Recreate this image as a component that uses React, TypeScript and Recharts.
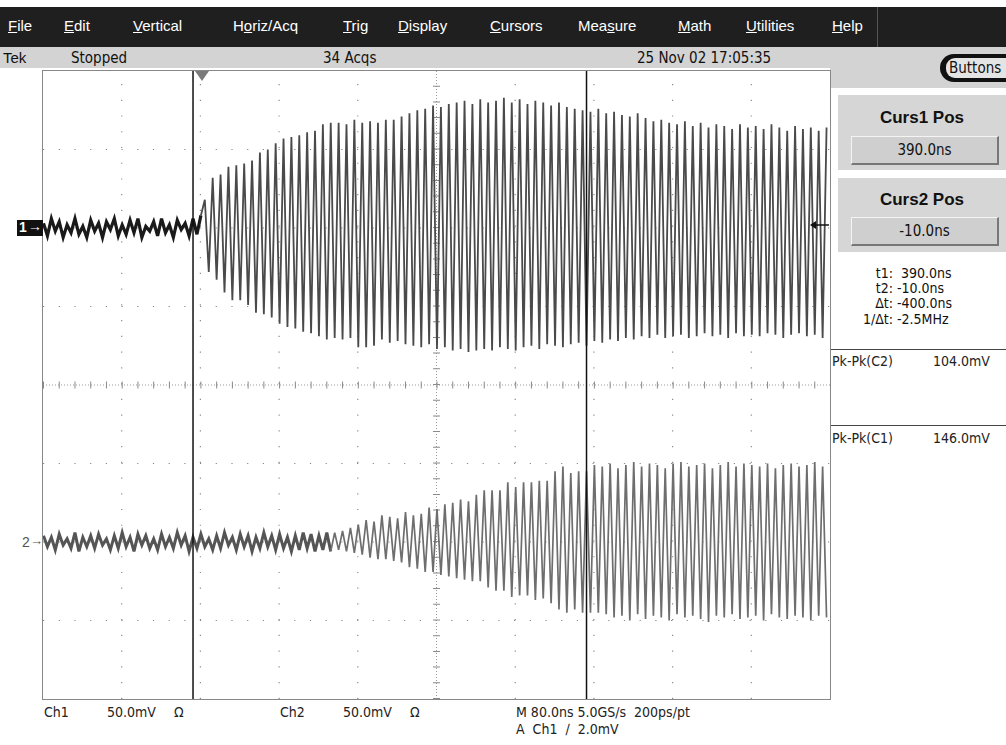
import React from "react";
import { LineChart, Line, XAxis, YAxis, ReferenceLine } from "recharts";

// time base: one point every half period (4 ns), starting at the left edge
const T0 = -162;
const STEP = 4;

// Ch1 before the trigger (mV)
const ch1Pre = [
  3, -5, 6, -2, 4, -6, 2, -3, 6, -4,
  1, -6, 5, -2, 3, -6, 4, -1, 6, -5,
  2, -4, 5, -3, 6, -6, 1, -2, 4, -5,
  6, -3, 2, -6, 5, -1, 3, -5, 6, -4,
  8,
];

// Ch1 ringing, upper and lower peak of each cycle (mV)
const ch1Top = [
  18, 32, 34, 39, 40, 41, 43, 48, 50, 54,
  57, 58, 59, 61, 62, 66, 67, 67, 66, 69,
  67, 68, 67, 69, 69, 71, 73, 75, 76, 78,
  77, 79, 80, 81, 79, 82, 80, 81, 83, 80,
  82, 79, 81, 80, 78, 80, 77, 76, 75, 74,
  76, 73, 74, 72, 71, 73, 70, 68, 69, 67,
  66, 68, 65, 67, 64, 66, 65, 63, 66, 64,
  65, 63, 66, 64, 62, 65, 63, 64, 62, 64,
];
const ch1Bottom = [
  -28, -33, -41, -46, -46, -49, -54, -55, -57, -61,
  -63, -64, -66, -67, -69, -71, -70, -71, -70, -76,
  -76, -75, -71, -73, -72, -74, -75, -76, -74, -77,
  -76, -78, -77, -79, -78, -77, -78, -76, -77, -78,
  -76, -75, -77, -74, -75, -76, -74, -73, -75, -72,
  -73, -71, -72, -70, -71, -69, -70, -68, -70, -69,
  -68, -70, -69, -67, -69, -68, -70, -67, -69, -68,
  -69, -67, -68, -70, -68, -67, -69, -68, -70,
];

// Ch2, upper and lower peak of each cycle (mV)
const ch2Top = [
  4, 3, 5, 2, 6, 3, 4, 5, 2, 4,
  6, 3, 5, 4, 2, 5, 3, 6, 4, 3,
  5, 2, 4, 6, 3, 5, 4, 3, 6, 4,
  5, 3, 4, 6, 5, 4, 6, 6, 7, 9,
  11, 14, 13, 17, 16, 15, 19, 17, 18, 22,
  21, 24, 25, 27, 26, 30, 33, 33, 33, 38,
  35, 38, 38, 39, 39, 45, 48, 44, 45, 45,
  49, 48, 50, 47, 49, 51, 48, 50, 49, 47,
  50, 51, 48, 49, 50, 47, 49, 51, 48, 50,
  49, 48, 50, 47, 49, 50, 48, 49, 51, 48,
];
const ch2Bottom = [
  -3, -5, -2, -4, -6, -3, -4, -2, -5, -4,
  -3, -6, -2, -4, -5, -3, -4, -2, -6, -4,
  -3, -5, -4, -2, -5, -3, -6, -4, -3, -5,
  -4, -6, -5, -4, -6, -5, -6, -5, -6, -7,
  -8, -10, -11, -11, -12, -13, -16, -17, -19, -19,
  -21, -22, -23, -24, -25, -25, -29, -31, -31, -35,
  -34, -34, -37, -36, -39, -43, -45, -43, -45, -45,
  -45, -46, -48, -47, -50, -46, -49, -47, -48, -50,
  -46, -48, -47, -49, -51, -47, -48, -46, -49, -48,
  -47, -50, -46, -48, -49, -47, -48, -50, -47, -48,
];

// channel positions on screen: +2 div and -2 div at 50 mV/div
const CH1_POS = 100;
const CH2_POS = -100;
// cycles of ch2 that are still only noise
const CH2_QUIET = 36;

const ch1: number[] = [...ch1Pre];
ch1Top.forEach((v, i) => {
  ch1.push(v);
  if (i < ch1Bottom.length) ch1.push(ch1Bottom[i]);
});
const ch2: number[] = [];
ch2Top.forEach((v, i) => ch2.push(v, ch2Bottom[i]));

const ch1Split = ch1Pre.length - 1;
const ch2Split = CH2_QUIET * 2 + 1;

const data = ch2.map((v, i) => ({
  t: T0 + i * STEP,
  ch1Noise: i <= ch1Split ? ch1[i] + CH1_POS : undefined,
  ch1: i >= ch1Split ? ch1[i] + CH1_POS : undefined,
  ch2Noise: i <= ch2Split ? v + CH2_POS : undefined,
  ch2: i >= ch2Split ? v + CH2_POS : undefined,
}));

const X_DOMAIN = [-162.5, 637.5];
const xGrid = [-82.5, -2.5, 77.5, 157.5, 317.5, 397.5, 477.5, 557.5];
const yGrid = [-150, -100, -50, 50, 100, 150];
const CURSORS = [-10, 390];

const menu = [
  ["F", "ile", "", 8],
  ["E", "dit", "", 64],
  ["V", "ertical", "", 133],
  ["H", "riz/Acq", "o", 233],
  ["T", "rig", "", 343],
  ["D", "isplay", "", 398],
  ["C", "ursors", "", 490],
  ["Mea", "ure", "s", 578],
  ["M", "ath", "", 678],
  ["U", "tilities", "", 746],
  ["H", "elp", "", 832],
];

const narrow = '"Liberation Sans Narrow", "DejaVu Sans Condensed", "Liberation Sans", Arial, sans-serif';
const sans = '"Liberation Sans", Arial, sans-serif';

const abs = (left: number, top: number, extra: React.CSSProperties = {}): React.CSSProperties => ({
  position: "absolute",
  left,
  top,
  whiteSpace: "pre",
  ...extra,
});

function MenuItem({ item }: { item: any[] }) {
  const [a, b, u, x] = item;
  let content;
  if (a === "H" && u === "o") {
    content = (
      <>
        H<u>o</u>riz/Acq
      </>
    );
  } else if (u === "s") {
    content = (
      <>
        Mea<u>s</u>ure
      </>
    );
  } else {
    content = (
      <>
        <u>{a}</u>
        {b}
      </>
    );
  }
  return <div style={abs(x, 17, { color: "#fff", fontSize: 15, fontFamily: sans })}>{content}</div>;
}

function ValueButton({ top, text }: { top: number; text: string }) {
  return (
    <div
      style={abs(851, top, {
        width: 145,
        height: 26,
        background: "#cfcfcf",
        borderTop: "1px solid #f4f4f4",
        borderLeft: "1px solid #f4f4f4",
        borderRight: "2px solid #777",
        borderBottom: "2px solid #777",
        textAlign: "center",
        lineHeight: "26px",
        fontSize: 15,
        fontFamily: narrow,
        color: "#111",
      })}
    >
      {text}
    </div>
  );
}

export default function App() {
  return (
    <div
      style={{
        position: "absolute",
        left: 0,
        top: 0,
        width: 1006,
        height: 745,
        background: "#fff",
        overflow: "hidden",
        fontFamily: sans,
      }}
    >
      {/* menu bar */}
      <div style={abs(0, 7, { width: 1006, height: 40, background: "#1f1f1f" })} />
      <div style={abs(877, 7, { width: 1, height: 40, background: "#555" })} />
      {menu.map((m, i) => (
        <MenuItem key={i} item={m} />
      ))}

      {/* status row */}
      <div style={abs(0, 47, { width: 1006, height: 21, background: "#d3d3d3" })} />
      <div style={abs(830, 68, { width: 176, height: 20, background: "#d3d3d3" })} />
      <div style={abs(3, 49, { fontSize: 15, fontFamily: sans, color: "#111" })}>Tek</div>
      <div style={abs(71, 49, { fontSize: 15, fontFamily: narrow, color: "#111" })}>Stopped</div>
      <div style={abs(323, 49, { fontSize: 15, fontFamily: narrow, color: "#111" })}>34 Acqs</div>
      <div style={abs(637, 49, { fontSize: 15, fontFamily: narrow, color: "#111" })}>25 Nov 02 17:05:35</div>
      <div
        style={abs(940, 54, {
          width: 80,
          height: 28,
          borderRadius: 14,
          background: "#111",
        })}
      />
      <div
        style={abs(946, 58, {
          width: 70,
          height: 20,
          borderRadius: 9,
          background: "#e4e4e4",
          fontSize: 15,
          fontFamily: narrow,
          lineHeight: "20px",
          paddingLeft: 3,
          color: "#111",
        })}
      >
        Buttons
      </div>

      {/* cursor boxes */}
      <div style={abs(838, 95, { width: 168, height: 75, background: "#d6d6d6" })} />
      <div style={abs(838, 108, { width: 168, textAlign: "center", fontSize: 17, fontWeight: "bold", color: "#111" })}>
        Curs1 Pos
      </div>
      <ValueButton top={136} text="390.0ns" />
      <div style={abs(838, 178, { width: 168, height: 74, background: "#d6d6d6" })} />
      <div style={abs(838, 190, { width: 168, textAlign: "center", fontSize: 17, fontWeight: "bold", color: "#111" })}>
        Curs2 Pos
      </div>
      <ValueButton top={217} text="-10.0ns" />

      {/* cursor readouts */}
      {[
        ["t1:", " 390.0ns", 265],
        ["t2:", "-10.0ns", 280],
        ["\u0394t:", "-400.0ns", 295],
        ["1/\u0394t:", "-2.5MHz", 311],
      ].map(([l, v, y]) => (
        <React.Fragment key={l as string}>
          <div style={abs(830, y as number, { width: 63, textAlign: "right", fontSize: 14, fontFamily: narrow, color: "#111" })}>
            {l}
          </div>
          <div style={abs(897, y as number, { fontSize: 14, fontFamily: narrow, color: "#111" })}>{v}</div>
        </React.Fragment>
      ))}

      {/* measurements */}
      <div style={abs(830, 349, { width: 176, height: 1, background: "#444" })} />
      <div style={abs(832, 353, { fontSize: 14, fontFamily: narrow, color: "#222" })}>Pk-Pk(C2)</div>
      <div style={abs(933, 353, { fontSize: 14, fontFamily: narrow, color: "#222" })}>104.0mV</div>
      <div style={abs(830, 425, { width: 176, height: 1, background: "#444" })} />
      <div style={abs(832, 430, { fontSize: 14, fontFamily: narrow, color: "#222" })}>Pk-Pk(C1)</div>
      <div style={abs(933, 430, { fontSize: 14, fontFamily: narrow, color: "#222" })}>146.0mV</div>

      {/* graticule and traces */}
      <div style={abs(43, 71)}>
        <LineChart width={787} height={628} data={data} margin={{ top: 0, right: 0, bottom: 0, left: 0 }}>
          <XAxis type="number" dataKey="t" domain={X_DOMAIN} allowDataOverflow hide />
          <YAxis type="number" domain={[-200, 200]} allowDataOverflow hide />
          {xGrid.map((x) => (
            <ReferenceLine key={"gx" + x} x={x} stroke="#8a8a8a" strokeWidth={1.2} strokeDasharray="1.2 14.54" />
          ))}
          {yGrid.map((y) => (
            <ReferenceLine key={"gy" + y} y={y} stroke="#8a8a8a" strokeWidth={1.2} strokeDasharray="1.2 14.5" />
          ))}
          <ReferenceLine x={237.5} stroke="#9a9a9a" strokeDasharray="1 2" />
          <ReferenceLine x={237.5} stroke="#8a8a8a" strokeWidth={7} strokeDasharray="1 14.7" />
          <ReferenceLine y={0} stroke="#9a9a9a" strokeDasharray="1 2" />
          <ReferenceLine y={0} stroke="#8a8a8a" strokeWidth={7} strokeDasharray="1 14.74" />
          <Line
            type="linear"
            dataKey="ch2Noise"
            stroke="#555"
            strokeWidth={3}
            dot={false}
            isAnimationActive={false}
          />
          <Line
            type="linear"
            dataKey="ch2"
            stroke="#6e6e6e"
            strokeWidth={1.7}
            dot={false}
            isAnimationActive={false}
          />
          <Line
            type="linear"
            dataKey="ch1Noise"
            stroke="#1a1a1a"
            strokeWidth={3.2}
            dot={false}
            isAnimationActive={false}
          />
          <Line
            type="linear"
            dataKey="ch1"
            stroke="#4a4a4a"
            strokeWidth={1.8}
            dot={false}
            isAnimationActive={false}
          />
          {CURSORS.map((c) => (
            <ReferenceLine key={"c" + c} x={c} stroke="#111" strokeWidth={1.5} />
          ))}
        </LineChart>
      </div>
      <div style={abs(42, 70, { width: 787, height: 628, border: "1px solid #888", pointerEvents: "none" })} />

      {/* trigger position */}
      <svg style={abs(195, 71)} width={14} height={11}>
        <polygon points="0,0 14,0 7,10" fill="#7a7a7a" />
      </svg>

      {/* trigger level arrow on the right edge */}
      <svg style={abs(810, 219)} width={20} height={12}>
        <line x1={4} y1={6} x2={19} y2={6} stroke="#111" strokeWidth={1.5} />
        <polygon points="0,6 6,2 6,10" fill="#111" />
      </svg>

      {/* channel markers */}
      <div style={abs(17, 220, { width: 26, height: 16, background: "#111" })} />
      <div style={abs(19, 219, { fontSize: 14, fontWeight: "bold", color: "#fff" })}>1</div>
      <div style={abs(28, 218, { fontSize: 14, color: "#fff" })}>{"\u2192"}</div>
      <div style={abs(22, 534, { fontSize: 14, color: "#555" })}>2</div>
      <div style={abs(30, 533, { fontSize: 13, color: "#555" })}>{"\u2192"}</div>

      {/* bottom readouts */}
      <div style={abs(44, 704, { fontSize: 14, fontFamily: narrow, color: "#222" })}>Ch1</div>
      <div style={abs(107, 704, { fontSize: 14, fontFamily: narrow, color: "#222" })}>50.0mV</div>
      <div style={abs(174, 704, { fontSize: 14, fontFamily: narrow, color: "#222" })}>{"\u03A9"}</div>
      <div style={abs(280, 704, { fontSize: 14, fontFamily: narrow, color: "#222" })}>Ch2</div>
      <div style={abs(343, 704, { fontSize: 14, fontFamily: narrow, color: "#222" })}>50.0mV</div>
      <div style={abs(410, 704, { fontSize: 14, fontFamily: narrow, color: "#222" })}>{"\u03A9"}</div>
      <div style={abs(516, 704, { fontSize: 14, fontFamily: narrow, color: "#222" })}>M 80.0ns 5.0GS/s  200ps/pt</div>
      <div style={abs(516, 721, { fontSize: 14, fontFamily: narrow, color: "#222" })}>A  Ch1  {"\u2215"}  2.0mV</div>
    </div>
  );
}
